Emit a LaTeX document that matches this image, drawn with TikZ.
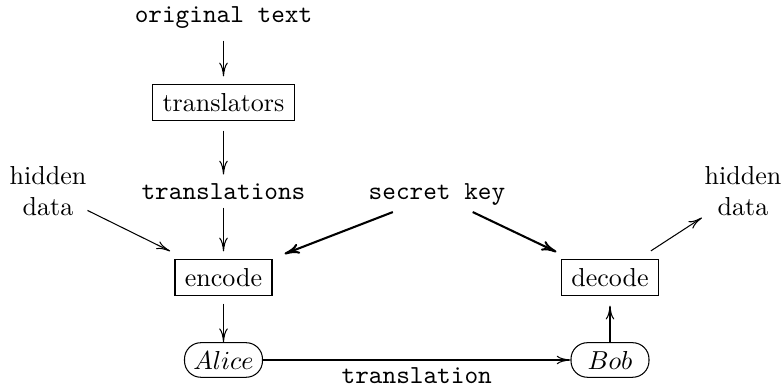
\documentclass[tikz,border=0pt]{standalone}
\usetikzlibrary{arrows.meta}
\tikzset{
  boxnode/.style={draw, line width=0.4pt, inner xsep=3.8pt, inner ysep=3.3pt},
  txt/.style={inner sep=0pt},
  agent/.style={draw, line width=0.4pt, rounded corners=6.3pt, minimum width=30pt, minimum height=13.3pt, inner sep=0pt},
  arr/.style={line width=0.4pt, -{Computer Modern Rightarrow[length=5.3pt,width=3.3pt]}},
  thickarr/.style={line width=0.8pt, -{Computer Modern Rightarrow[length=5.8pt,width=4pt]}},
}
\begin{document}
\begin{tikzpicture}[x=0.3846pt, y=-0.3846pt]
\useasboundingbox (0,0) rectangle (783,387);
\node[txt, anchor=base, font=\ttfamily] (orig) at (223.5,23) {original text};
\node[boxnode] (trs) at (223.5,102.5) {translators};
\node[txt, anchor=base, font=\ttfamily] (tls) at (223.5,200) {translations};
\node[txt, align=center] (hdl) at (48,191) {hidden\\data};
\node[txt, anchor=base, font=\ttfamily] (key) at (437,200) {secret key};
\node[txt, align=center] (hdr) at (743,191) {hidden\\data};
\node[boxnode] (enc) at (223.5,277.5) {encode};
\node[boxnode] (dec) at (610,277.5) {decode};
\node[agent] (alice) at (223.5,360) {$Alice$};
\node[agent] (bob) at (610,360) {$Bob$};

\draw[arr, shorten <=4.3pt, shorten >=3pt] (orig) -- (trs);
\draw[arr, shorten <=3.8pt, shorten >=3.5pt] (trs) -- (tls);
\draw[arr, shorten <=2.7pt, shorten >=3pt] (tls) -- (enc);
\draw[arr, shorten <=0.3pt, shorten >=7pt] (hdl) -- (enc);
\draw[thickarr, shorten <=6pt, shorten >=5.7pt] (key) -- (enc);
\draw[thickarr, shorten <=5pt, shorten >=6.5pt] (key) -- (dec);
\draw[arr, shorten <=5.9pt, shorten >=1pt] (dec) -- (hdr);
\draw[arr, shorten <=3pt] (enc) -- (alice);
\draw[arr, shorten >=3.8pt] (bob) -- (dec);
\draw[arr] (alice) -- (bob) node[midway, anchor=north, inner sep=0pt, yshift=-2.7pt, font=\ttfamily] (lbl) {translation};
\end{tikzpicture}
\end{document}
